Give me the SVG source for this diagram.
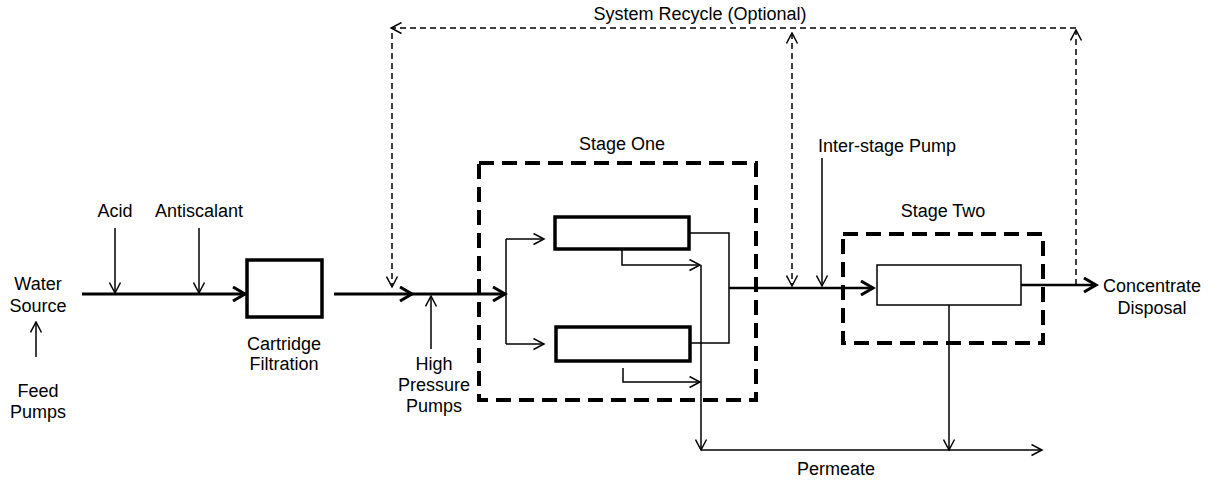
<svg xmlns="http://www.w3.org/2000/svg" width="1209" height="480" viewBox="0 0 1209 480">
<style>
text{font-family:"Liberation Sans",Arial,sans-serif;font-size:18px;fill:#000}
.m{text-anchor:middle}
.thick{fill:none;stroke:#000;stroke-width:3}
.med{fill:none;stroke:#000;stroke-width:2.5}
.thin{fill:none;stroke:#000;stroke-width:1.5}
.dash{fill:none;stroke:#000;stroke-width:1.5;stroke-dasharray:6 4}
.stage{fill:none;stroke:#000;stroke-width:4;stroke-dasharray:15 8}
.box{fill:#fff;stroke:#000;stroke-width:3.5}
.box2{fill:#fff;stroke:#000;stroke-width:1.5}
</style>
<defs>
<marker id="ak" markerUnits="userSpaceOnUse" viewBox="-1 -1 16 16" refX="12" refY="7" markerWidth="16" markerHeight="16" orient="auto">
<path d="M0,0 L12,7 L0,14" fill="none" stroke="#000" stroke-width="3" stroke-dasharray="none"/>
</marker>
<marker id="an" markerUnits="userSpaceOnUse" viewBox="-1 -1 13 13" refX="10.5" refY="5.5" markerWidth="13" markerHeight="13" orient="auto-start-reverse">
<path d="M0,0 L10.5,5.5 L0,11" fill="none" stroke="#000" stroke-width="1.5" stroke-dasharray="none"/>
</marker>
</defs>

<g id="stage-one">
<rect class="stage" x="479" y="163" width="277" height="237"/>
<text class="m" x="622" y="150">Stage One</text>
</g>
<g id="stage-two">
<rect class="stage" x="843" y="234" width="200" height="109"/>
<text class="m" x="943" y="217">Stage Two</text>
</g>

<g id="connectors">
<path class="thick" d="M82,294 H245" marker-end="url(#ak)"/>
<path class="thick" d="M334,294 H412" marker-end="url(#ak)"/>
<path class="thick" d="M412,294 H505" marker-end="url(#ak)"/>
<path class="thin" d="M115,228 V293" marker-end="url(#an)"/>
<path class="thin" d="M199,228 V293" marker-end="url(#an)"/>
<path class="thin" d="M36,357 V322" marker-end="url(#an)"/>
<path class="thin" d="M431,349 V296" marker-end="url(#an)"/>
<path class="thin" d="M506,239 V344"/>
<path class="thin" d="M506,239 H544" marker-end="url(#an)"/>
<path class="thin" d="M506,344 H544" marker-end="url(#an)"/>
<path class="thin" d="M689,233 H729 V343 H690"/>
<path class="med" d="M729,288 H873" marker-end="url(#ak)"/>
<path class="thin" d="M622,249 V265 H700" marker-end="url(#an)"/>
<path class="thin" d="M623,368 V382 H700" marker-end="url(#an)"/>
<path class="thin" d="M701,265 V450" marker-end="url(#an)"/>
<path class="thin" d="M701,450 H1042" marker-end="url(#an)"/>
<path class="thin" d="M949,305 V450" marker-end="url(#an)"/>
<path class="thin" d="M822,158 V286" marker-end="url(#an)"/>
<path class="med" d="M1021,285 H1096" marker-end="url(#ak)"/>
<path class="dash" d="M1076,285 V30" marker-end="url(#an)"/>
<path class="dash" d="M1076,28 H391" marker-end="url(#an)"/>
<path class="dash" d="M392,33 V287" marker-end="url(#an)"/>
<path class="dash" d="M792,33 V286" marker-start="url(#an)" marker-end="url(#an)"/>
</g>

<g id="water-source">
<text class="m" x="38" y="290">Water</text>
<text class="m" x="38" y="312">Source</text>
</g>
<g id="feed-pumps">
<text class="m" x="38" y="397">Feed</text>
<text class="m" x="38" y="418">Pumps</text>
</g>
<g id="acid"><text class="m" x="115" y="217">Acid</text></g>
<g id="antiscalant"><text class="m" x="199" y="217">Antiscalant</text></g>
<g id="cartridge-filtration">
<rect class="box" x="247" y="260" width="75" height="57"/>
<text class="m" x="284" y="350">Cartridge</text>
<text class="m" x="284" y="370">Filtration</text>
</g>
<g id="high-pressure-pumps">
<text class="m" x="434" y="370">High</text>
<text class="m" x="434" y="391">Pressure</text>
<text class="m" x="434" y="412">Pumps</text>
</g>
<g id="membrane-1a"><rect class="box" x="555" y="217" width="134" height="32"/></g>
<g id="membrane-1b"><rect class="box" x="556" y="327" width="134" height="34"/></g>
<g id="membrane-2"><rect class="box2" x="877" y="265" width="144" height="40"/></g>
<g id="inter-stage-pump"><text x="818" y="152">Inter-stage Pump</text></g>
<g id="system-recycle"><text class="m" x="700" y="20">System Recycle (Optional)</text></g>
<g id="concentrate-disposal">
<text class="m" x="1152" y="292">Concentrate</text>
<text class="m" x="1152" y="314">Disposal</text>
</g>
<g id="permeate"><text class="m" x="836" y="475">Permeate</text></g>
</svg>
